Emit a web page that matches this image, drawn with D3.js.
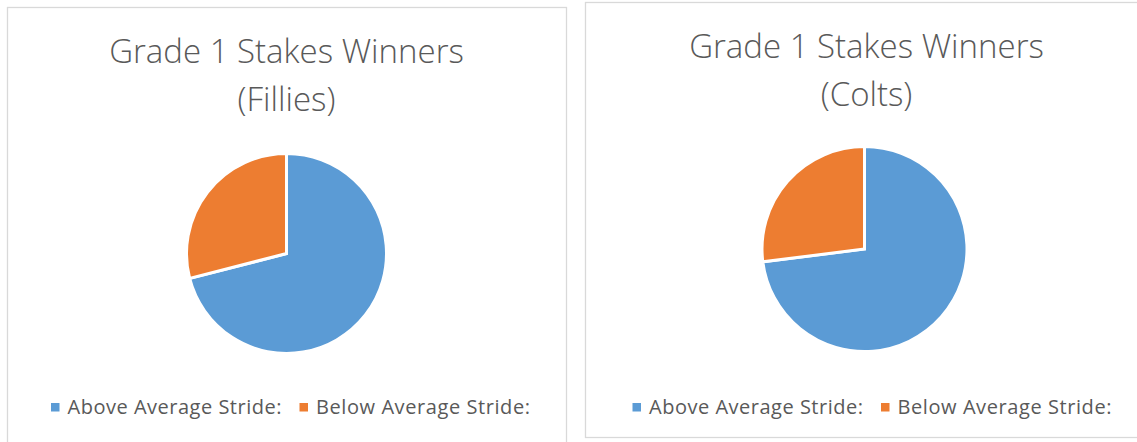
<!DOCTYPE html>
<html>
<head>
<meta charset="utf-8">
<script src="https://cdn.jsdelivr.net/npm/d3@7"></script>
<style>
  body { margin: 0; background: #fff; }
  text { font-family: 'Open Sans', sans-serif; fill: #595959; }
</style>
</head>
<body>
<div id="charts"></div>
<script>
const width = 1137, height = 442;

// data (share of winners, %)
const categories = ['Above Average Stride:', 'Below Average Stride:'];
const colors = ['#5B9BD5', '#ED7D31'];
const fillies = [71, 29];
const colts = [73, 27];
const titles_fillies = ['Grade 1 Stakes Winners', '(Fillies)'];
const titles_colts = ['Grade 1 Stakes Winners', '(Colts)'];

// panel layout
const panels = [
    {box: [7.5, 7.5, 559, 440], cx: 286.5, cy: 253.5, r: 100, title_x: 286.5, title_y: 63, legend_x: 290.5, values: fillies, titles: titles_fillies},
    {box: [585.5, 2.5, 560, 435], cx: 864.5, cy: 249, r: 102.5, title_x: 866.5, title_y: 58, legend_x: 872, values: colts, titles: titles_colts}
];
const legend_y = 414;
const legend_text_w = 214;

const color = d3.scaleOrdinal().domain(categories).range(colors);

function drawFrame(svg, p) {
    svg.append('rect')
        .attr('x', p.box[0]).attr('y', p.box[1])
        .attr('width', p.box[2]).attr('height', p.box[3])
        .attr('fill', '#fff')
        .attr('stroke', '#D9D9D9')
        .attr('stroke-width', 1.3);
}

function drawTitle(svg, p) {
    let t = svg.append('text')
        .attr('text-anchor', 'middle')
        .attr('font-size', 33)
        .attr('font-weight', 300);
    p.titles.forEach((line, i) => {
        t.append('tspan')
            .attr('x', p.title_x)
            .attr('y', p.title_y + i * 48)
            .text(line);
    });
}

function drawPie(svg, p) {
    const data = categories.map((c, i) => ({cat: c, value: p.values[i]}));
    const pie = d3.pie().sort(null).value(d => d.value);
    const arc = d3.arc().innerRadius(0).outerRadius(p.r);
    svg.append('g')
        .attr('transform', 'translate(' + p.cx + ',' + p.cy + ')')
        .selectAll('path')
        .data(pie(data))
        .enter()
        .append('path')
        .attr('d', arc)
        .attr('fill', d => color(d.data.cat))
        .attr('stroke', '#fff')
        .attr('stroke-width', 3)
        .attr('stroke-linejoin', 'miter');
}

function drawLegend(svg, p) {
    const sq = 8.5, gap = 8, item_gap = 18;
    const item_w = sq + gap + legend_text_w;
    const total = item_w * categories.length + item_gap * (categories.length - 1);
    let x0 = p.legend_x - total / 2;
    let g = svg.append('g').attr('class', 'legend');
    categories.forEach((c, i) => {
        const x = x0 + i * (item_w + item_gap);
        g.append('rect')
            .attr('x', x).attr('y', legend_y - 11)
            .attr('width', sq).attr('height', sq)
            .attr('fill', color(c));
        g.append('text')
            .attr('x', x + sq + gap)
            .attr('y', legend_y)
            .attr('font-size', 20)
            .attr('textLength', legend_text_w)
            .attr('lengthAdjust', 'spacing')
            .text(c);
    });
}

let svg = d3.select('#charts').append('svg')
    .attr('width', width)
    .attr('height', height);

panels.forEach(p => {
    drawFrame(svg, p);
    drawTitle(svg, p);
    drawPie(svg, p);
    drawLegend(svg, p);
});
</script>
</body>
</html>
